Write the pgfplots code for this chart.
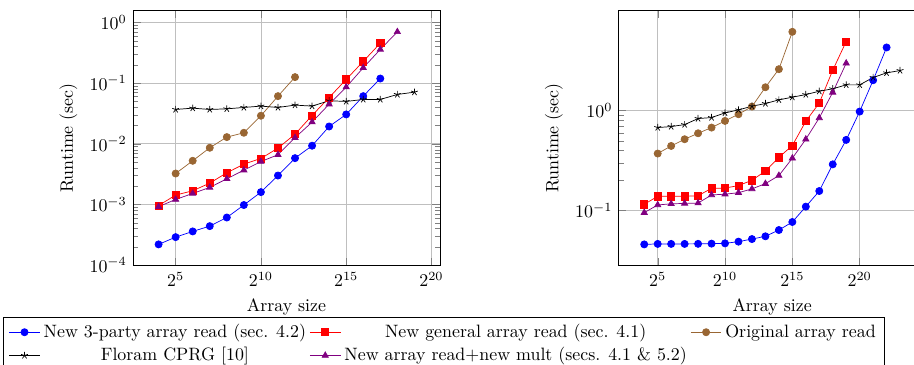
\documentclass[border=0pt]{standalone}
\usepackage{pgfplots}
\pgfplotsset{compat=1.18}
\begin{document}
\begin{tikzpicture}
\pgfplotsset{
  every axis/.append style={
    scale only axis, width=171.5pt, height=142.5pt,
    xmode=log, ymode=log, log basis x=2,
    xtick={32,1024,32768,1048576},
    xticklabels={$2^{5}$,$2^{10}$,$2^{15}$,$2^{20}$},
    grid=major,
    xlabel={Array size}, ylabel={Runtime (sec)},
  },
  s1/.style={blue, mark=*, mark options={solid}},
  s2/.style={red, mark=square*, mark options={solid}},
  s3/.style={brown!80!black, mark=*, mark options={solid}},
  s4/.style={black, mark=star, mark options={solid}},
  s5/.style={violet, mark=triangle*, mark options={solid}},
}
\begin{axis}[name=L, at={(0,0)}, anchor=south west,
  legend columns=3, legend cell align=center,
  legend style={at={(-0.423,-0.2)}, anchor=north west, draw=black, fill=white, font=\normalsize}]
\addplot[s1] coordinates {(16,2.2e-4)(32,2.9e-4)(64,3.6e-4)(128,4.4e-4)(256,6.1e-4)(512,9.8e-4)(1024,1.6e-3)(2048,3.0e-3)(4096,5.8e-3)(8192,9.3e-3)(16384,0.0193)(32768,0.0305)(65536,0.061)(131072,0.119)};
\addlegendentry{New 3-party array read (sec. 4.2)}
\addplot[s2] coordinates {(16,9.6e-4)(32,1.43e-3)(64,1.68e-3)(128,2.25e-3)(256,3.33e-3)(512,4.62e-3)(1024,5.73e-3)(2048,8.5e-3)(4096,0.0144)(8192,0.0293)(16384,0.058)(32768,0.115)(65536,0.228)(131072,0.456)};
\addlegendentry{New general array read (sec. 4.1)}
\addplot[s3] coordinates {(32,3.24e-3)(64,5.25e-3)(128,8.6e-3)(256,0.0129)(512,0.0152)(1024,0.029)(2048,0.061)(4096,0.1256)};
\addlegendentry{Original array read}
\addplot[s4] coordinates {(32,0.0368)(64,0.0387)(128,0.0368)(256,0.0377)(512,0.0397)(1024,0.0418)(2048,0.0397)(4096,0.0434)(8192,0.0418)(16384,0.0512)(32768,0.0499)(65536,0.0538)(131072,0.0538)(262144,0.065)(524288,0.071)};
\addlegendentry{Floram CPRG [10]}
\addplot[s5] coordinates {(16,9.2e-4)(32,1.21e-3)(64,1.52e-3)(128,1.91e-3)(256,2.65e-3)(512,3.68e-3)(1024,5.1e-3)(2048,6.6e-3)(4096,0.0126)(8192,0.0228)(16384,0.045)(32768,0.086)(65536,0.179)(131072,0.359)(262144,0.70)};
\addlegendentry{New array read+new mult (secs. 4.1 \& 5.2)}
\end{axis}
\begin{axis}[name=R, at={(271.3pt,0)}, anchor=south west, ytick={0.1,1}]
\addplot[s1] coordinates {(16,0.046)(32,0.0465)(64,0.0465)(128,0.0465)(256,0.0466)(512,0.0468)(1024,0.0471)(2048,0.049)(4096,0.052)(8192,0.0554)(16384,0.064)(32768,0.077)(65536,0.1096)(131072,0.157)(262144,0.29)(524288,0.509)(1048576,0.977)(2097152,2.01)(4194304,4.27)};
\addplot[s2] coordinates {(16,0.1157)(32,0.139)(64,0.139)(128,0.139)(256,0.141)(512,0.167)(1024,0.168)(2048,0.178)(4096,0.201)(8192,0.249)(16384,0.341)(32768,0.447)(65536,0.782)(131072,1.19)(262144,2.53)(524288,4.9)};
\addplot[s3] coordinates {(32,0.372)(64,0.443)(128,0.517)(256,0.593)(512,0.676)(1024,0.788)(2048,0.919)(4096,1.096)(8192,1.71)(16384,2.59)(32768,6.12)};
\addplot[s4] coordinates {(32,0.676)(64,0.692)(128,0.724)(256,0.832)(512,0.851)(1024,0.948)(2048,1.015)(4096,1.105)(8192,1.175)(16384,1.279)(32768,1.36)(65536,1.445)(131072,1.56)(262144,1.65)(524288,1.806)(1048576,1.806)(2097152,2.14)(4194304,2.38)(8388608,2.51)};
\addplot[s5] coordinates {(16,0.0955)(32,0.114)(64,0.117)(128,0.118)(256,0.119)(512,0.1435)(1024,0.146)(2048,0.151)(4096,0.165)(8192,0.186)(16384,0.224)(32768,0.334)(65536,0.517)(131072,0.845)(262144,1.52)(524288,2.97)};
\end{axis}
\pgfresetboundingbox
\path[use as bounding box] (-74.3pt,-55pt) rectangle (436.3pt,148.4pt);
\end{tikzpicture}
\end{document}
